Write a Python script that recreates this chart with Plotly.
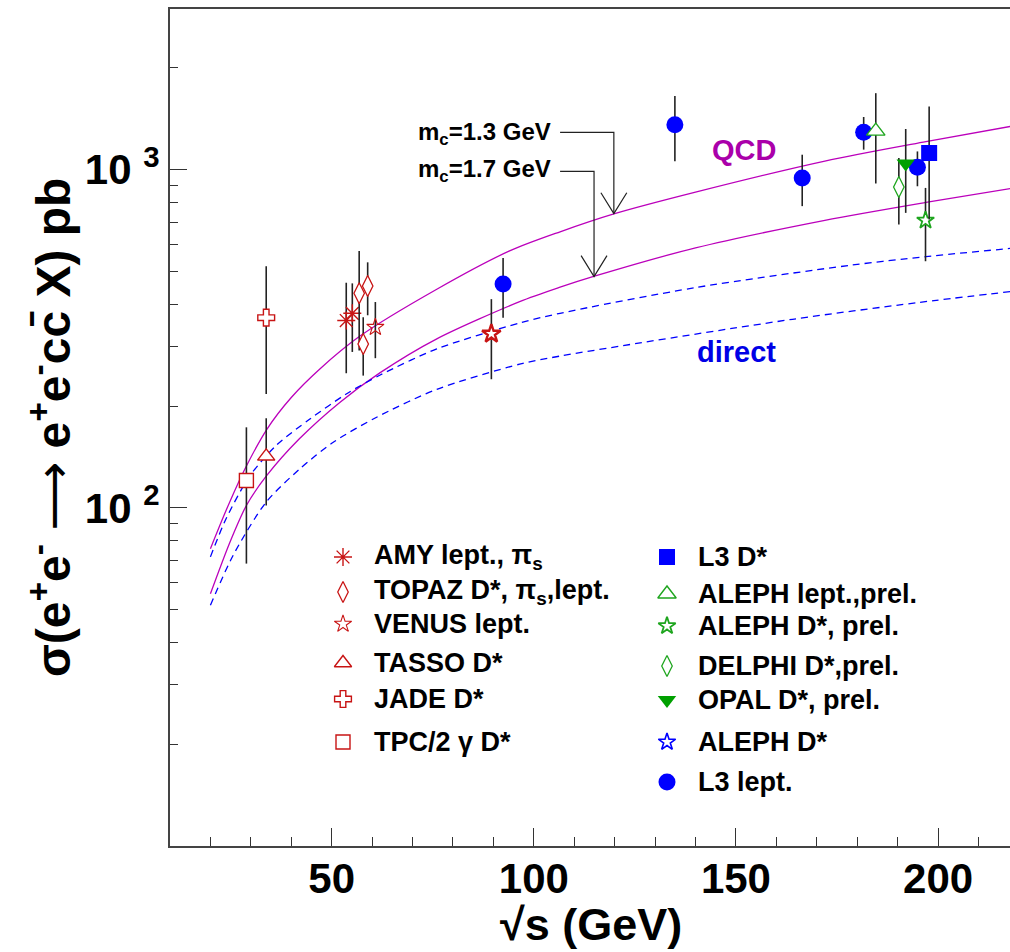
import plotly.graph_objects as go

# theory curves (sqrt(s) in GeV, sigma in pb)
qcd13_x = [20, 24, 28.5, 34, 40, 47, 57, 76, 94, 106.5, 120, 140, 172, 197, 218]
qcd13_y = [75.7, 99, 130, 171, 212, 257, 322, 443, 575, 655, 741, 858, 1060, 1210, 1343]
qcd17_x = [20, 24.8, 28.9, 33.8, 42, 52, 62, 76, 96.5, 106.5, 115, 140, 172, 197, 218]
qcd17_y = [55.7, 79, 101.6, 124, 160, 205, 251, 316, 407, 449, 484, 587, 708, 800, 880]
dir13_x = [20, 23.9, 29.7, 36.3, 44.6, 53.6, 62, 76, 96.5, 106.5, 140, 178.6, 197, 218]
dir13_y = [71.6, 93, 124, 153, 183, 217, 247, 295, 352, 376, 448, 522, 553, 585]
dir17_x = [20, 25.6, 33.8, 42, 50.3, 61, 76, 96.5, 106.5, 164, 199, 218]
dir17_y = [51.5, 72.3, 104, 130, 156, 185, 224, 266, 281, 361, 410, 436]

# measurements: x, value, upper end, lower end of error bar
amy_x = [53.6, 55.1]
amy_y = [358, 376]
amy_hi = [463, 461]
amy_lo = [250, 289]

topaz_x = [56.8, 58.9, 57.8]
topaz_y = [431, 453, 305]
topaz_hi = [575, 532, 366]
topaz_lo = [292, 371, 246]

venus_x = [60.8]
venus_y = [342]
venus_hi = [406]
venus_lo = [277]

venus90_x = [89.5]
venus90_y = [327]
venus90_hi = [414]
venus90_lo = [240]

tasso_x = [33.8]
tasso_y = [142]
tasso_hi = [184]
tasso_lo = [101.6]

jade_x = [33.8]
jade_y = [365]
jade_hi = [518]
jade_lo = [217]

tpc_x = [28.9]
tpc_y = [120.4]
tpc_hi = [173]
tpc_lo = [68.4]

l3d_x = [197.8]
l3d_y = [1120]
l3d_hi = [1538]
l3d_lo = [712]

alephl_x = [184.6]
alephl_y = [1300]
alephl_hi = [1683]
alephl_lo = [910]

alephd_x = [196.9]
alephd_y = [708]
alephd_hi = [883]
alephd_lo = [536]

delphi_x = [190.3]
delphi_y = [889]
delphi_hi = [1082]
delphi_lo = [688]

opal_x = [192.0]
opal_y = [1042]
opal_hi = [1319]
opal_lo = [745]

l3l_x = [92.4, 134.9, 166.4, 181.6, 194.9]
l3l_y = [459, 1358, 945, 1289, 1016]
l3l_hi = [548, 1652, 1107, 1431, 1132]
l3l_lo = [365, 1058, 780, 1146, 893]

# m_c arrows: tip on the curve, height of the elbow, start of the horizontal leg
arrow_tip_x = [119.8, 114.9]
arrow_tip_y = [741, 483]
arrow_elbow_y = [1288, 988]
arrow_start_x = 106.5
arrow_labels = ["m<sub>c</sub>=1.3 GeV", "m<sub>c</sub>=1.7 GeV"]

left_labels = ["AMY lept., π<sub>s</sub>", "TOPAZ D*, π<sub>s</sub>,lept.", "VENUS lept.",
               "TASSO D*", "JADE D*", "TPC/2 γ D*"]
right_labels = ["L3 D*", "ALEPH lept.,prel.", "ALEPH D*, prel.", "DELPHI D*,prel.",
                "OPAL D*, prel.", "ALEPH D*", "L3 lept."]

RED = "#c81414"
GREEN = "#1ea51e"
DGREEN = "#00a000"
BLUE = "#0000ff"
MAG = "#bb00bb"
FONT = "Liberation Sans"

# plot area in page pixels
L, R, T, B = 170, 1010, 9, 846


def px(x):
    return (x - L) / (R - L)


def py(y):
    return (B - y) / (B - T)


fig = go.Figure()

for xs, ys, col, dash in [(qcd13_x, qcd13_y, MAG, "solid"), (qcd17_x, qcd17_y, MAG, "solid"),
                          (dir13_x, dir13_y, BLUE, "7px,5px"), (dir17_x, dir17_y, BLUE, "7px,5px")]:
    fig.add_trace(go.Scatter(x=xs, y=ys, mode="lines", hoverinfo="skip",
                             line=dict(color=col, width=1.3, dash=dash, shape="spline", smoothing=0.8)))

# arrows pointing at the two QCD curves
for tx, ty, ey in zip(arrow_tip_x, arrow_tip_y, arrow_elbow_y):
    fig.add_trace(go.Scatter(x=[arrow_start_x, tx, tx], y=[ey, ey, ty], mode="lines",
                             line=dict(color="#222", width=1.2), hoverinfo="skip"))
    fig.add_trace(go.Scatter(x=[tx - 3.2, tx, tx + 3.2], y=[ty * 1.153, ty, ty * 1.153], mode="lines",
                             line=dict(color="#222", width=1.2), hoverinfo="skip"))


def marker(symbol, size, color, fill, lw=1.5):
    return dict(symbol=symbol, size=size, color=fill, line=dict(color=color, width=lw))


def points(xs, ys, hi, lo, mk):
    fig.add_trace(go.Scatter(
        x=xs, y=ys, mode="markers", marker=mk, hoverinfo="skip",
        error_y=dict(type="data", symmetric=False,
                     array=[h - y for h, y in zip(hi, ys)],
                     arrayminus=[y - l for y, l in zip(ys, lo)],
                     color="#222222", thickness=1.6, width=0)))


amy_mk = marker("asterisk-open", 15, RED, RED, 1.4)
topaz_mk = marker("diamond-tall", 15, RED, "white", 1.3)
venus_mk = marker("star-open", 13, RED, RED, 1.1)
tasso_mk = marker("triangle-up", 15, RED, "white", 1.4)
jade_mk = marker("cross", 14, RED, "white", 1.4)
tpc_mk = marker("square", 14, RED, "white", 1.4)
l3d_mk = marker("square", 16, BLUE, BLUE, 0)
alephl_mk = marker("triangle-up", 16, GREEN, "white", 1.4)
alephd_mk = marker("star", 13, GREEN, "white", 1.8)
delphi_mk = marker("diamond-tall", 15, GREEN, "white", 1.3)
opal_mk = marker("triangle-down", 16, DGREEN, DGREEN, 0)
aleph_blue_mk = marker("star", 13, BLUE, "white", 1.6)
l3l_mk = marker("circle", 17, BLUE, BLUE, 0)

points(tpc_x, tpc_y, tpc_hi, tpc_lo, tpc_mk)
points(tasso_x, tasso_y, tasso_hi, tasso_lo, tasso_mk)
points(jade_x, jade_y, jade_hi, jade_lo, jade_mk)
points(amy_x, amy_y, amy_hi, amy_lo, amy_mk)
points(topaz_x, topaz_y, topaz_hi, topaz_lo, topaz_mk)
points(venus_x, venus_y, venus_hi, venus_lo, venus_mk)
points(venus90_x, venus90_y, venus90_hi, venus90_lo, marker("star", 14, RED, "white", 2.4))
points(l3l_x, l3l_y, l3l_hi, l3l_lo, l3l_mk)
points(alephl_x, alephl_y, alephl_hi, alephl_lo, alephl_mk)
points(delphi_x, delphi_y, delphi_hi, delphi_lo, delphi_mk)
points(alephd_x, alephd_y, alephd_hi, alephd_lo, alephd_mk)
points(opal_x, opal_y, opal_hi, opal_lo, opal_mk)
points(l3d_x, l3d_y, l3d_hi, l3d_lo, l3d_mk)

# hand made two-column legend on a pixel overlay axis
left_rows = [557, 592, 624, 663, 699, 742]
right_rows = [557, 594, 626, 666, 700, 742, 782]
left_mks = [amy_mk, topaz_mk, venus_mk, tasso_mk, jade_mk, tpc_mk]
right_mks = [l3d_mk, alephl_mk, alephd_mk, delphi_mk, opal_mk, aleph_blue_mk, l3l_mk]
annotations = []


def label(x, y, text, size, color="black", xanchor="center", angle=0):
    annotations.append(dict(x=px(x), y=py(y), xref="paper", yref="paper", text=text,
                            showarrow=False, xanchor=xanchor, yanchor="middle", textangle=angle,
                            font=dict(family=FONT, size=size, color=color, weight="bold")))


for xm, xt, rows, mks, labels in [(343, 372, left_rows, left_mks, left_labels),
                                  (667, 696, right_rows, right_mks, right_labels)]:
    for yy, mk, lab in zip(rows, mks, labels):
        fig.add_trace(go.Scatter(x=[xm], y=[yy], xaxis="x2", yaxis="y2", mode="markers",
                                 marker=mk, hoverinfo="skip"))
        label(xt, yy, lab, 27, xanchor="left")

for lab, yy in zip(arrow_labels, [133, 170]):
    label(553, yy, lab, 24, xanchor="right")

label(744, 150, "QCD", 29, "#aa00aa")
label(736, 352, "direct", 29, "#0000e6")
label(591, 924, "√s (GeV)", 45)
label(50, 428, "σ(e<sup>+</sup>e<sup>-</sup> "
               "<span style='font-family:DejaVu Sans;font-weight:normal'>⟶</span> "
               "e<sup>+</sup>e<sup>-</sup>cc\u0304 X) pb", 48, angle=-90)

fig.update_layout(
    width=1010, height=952,
    margin=dict(l=L, r=1010 - R, t=T, b=952 - B),
    paper_bgcolor="white", plot_bgcolor="white",
    showlegend=False, hovermode=False,
    annotations=annotations,
    xaxis=dict(range=[10, 217.8], showgrid=False, zeroline=False,
               showline=True, linecolor="#444", linewidth=2, mirror=True,
               ticks="inside", ticklen=18, tickwidth=1.3, tickcolor="#333",
               tickvals=[50, 100, 150, 200], ticklabelstandoff=-5,
               tickfont=dict(family=FONT, size=42, color="black", weight="bold"),
               minor=dict(ticks="inside", ticklen=9, tickwidth=1.3, tickcolor="#333",
                          tickvals=[20, 30, 40, 60, 70, 80, 90, 110, 120, 130, 140,
                                    160, 170, 180, 190, 210])),
    yaxis=dict(type="log", range=[1.0, 3.475], showgrid=False, zeroline=False,
               showline=True, linecolor="#444", linewidth=2,
               ticks="inside", ticklen=17, tickwidth=1.3, tickcolor="#333",
               tickvals=[100, 1000], ticktext=["10&nbsp;<sup>2</sup>", "10&nbsp;<sup>3</sup>"],
               tickfont=dict(family=FONT, size=42, color="black", weight="bold"),
               minor=dict(ticks="inside", ticklen=8, tickwidth=1.3, tickcolor="#333",
                          tickvals=[20, 30, 40, 50, 60, 70, 80, 90, 200, 300, 400, 500,
                                    600, 700, 800, 900, 2000])),
    xaxis2=dict(range=[L, R], overlaying="x", anchor="y2", visible=False),
    yaxis2=dict(range=[B, T], overlaying="y", anchor="x2", visible=False),
)

# the page should start at the top-left corner, without the default body margin
fig.write_html("out.html", config={"displayModeBar": False},
               post_script="document.body.style.margin='0';")
